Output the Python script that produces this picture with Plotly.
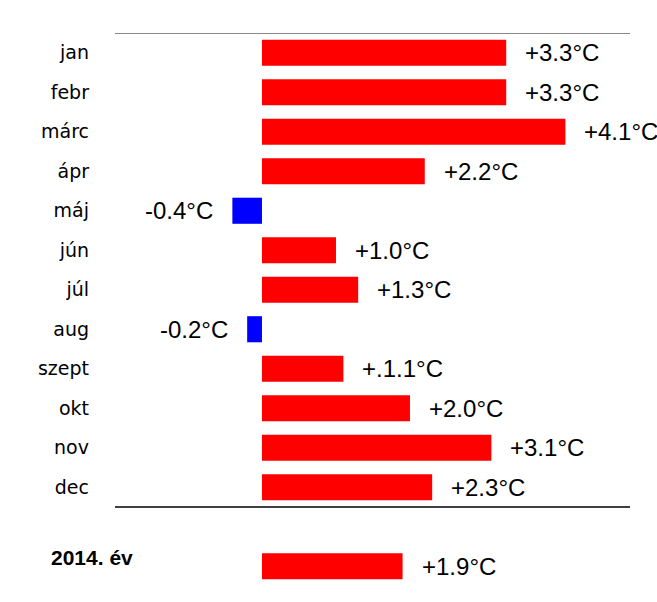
import plotly.graph_objects as go

months = ["jan", "febr", "márc", "ápr", "máj", "jún", "júl", "aug",
          "szept", "okt", "nov", "dec"]
anomaly = [3.3, 3.3, 4.1, 2.2, -0.4, 1.0, 1.3, -0.2, 1.1, 2.0, 3.1, 2.3]
value_labels = ["+3.3°C", "+3.3°C", "+4.1°C", "+2.2°C", "-0.4°C", "+1.0°C",
                "+1.3°C", "-0.2°C", "+.1.1°C", "+2.0°C", "+3.1°C", "+2.3°C"]

year_label = "2014. év"
year_anomaly = 1.9
year_value_label = "+1.9°C"

spacer = " "
categories = months + [spacer, year_label]
all_values = anomaly + [year_anomaly]
all_cats = months + [year_label]
all_labels = value_labels + [year_value_label]

colors = ["#ff0000" if v >= 0 else "#0000ff" for v in all_values]

fig = go.Figure()

fig.add_trace(go.Bar(
    x=all_values,
    y=all_cats,
    orientation="h",
    marker=dict(color=colors, line=dict(width=0)),
    width=0.66,
    hoverinfo="x+y",
))

# value labels next to the bar ends
for v, c, t in zip(all_values, all_cats, all_labels):
    fig.add_annotation(
        x=v, y=c, text=t, showarrow=False,
        xanchor="left" if v >= 0 else "right",
        xshift=17 if v >= 0 else -17,
        font=dict(family="Liberation Sans, Arial", size=24, color="black"),
    )

# bold year label
fig.add_annotation(
    x=-0.128, xref="paper", y=year_label, yshift=9,
    text="<b>" + year_label + "</b>", showarrow=False, xanchor="left",
    font=dict(family="Liberation Sans, Arial", size=21, color="black"),
)

# top and bottom rules
fig.add_shape(type="line", xref="paper", x0=0, x1=1, y0=-0.5, y1=-0.5,
              line=dict(color="#888888", width=2))
fig.add_shape(type="line", xref="paper", x0=0, x1=1, y0=11.5, y1=11.5,
              line=dict(color="black", width=1.5))

fig.update_layout(
    width=657,
    height=602,
    margin=dict(l=115, r=27, t=33, b=16),
    plot_bgcolor="white",
    paper_bgcolor="white",
    showlegend=False,
)

fig.update_xaxes(range=[-1.986, 4.973], visible=False, fixedrange=True)
fig.update_yaxes(
    type="category",
    categoryorder="array",
    categoryarray=categories,
    range=[13.5, -0.5],
    tickvals=months,
    ticktext=months,
    showgrid=False,
    zeroline=False,
    showline=False,
    ticks="",
    ticklabelstandoff=25,
    tickfont=dict(family="DejaVu Sans, Verdana", size=19, color="black"),
)

# drop the default 8px page margin so the figure fills the window
fig.write_html("out.html", config={"displayModeBar": False},
               post_script="document.body.style.margin='0';")
